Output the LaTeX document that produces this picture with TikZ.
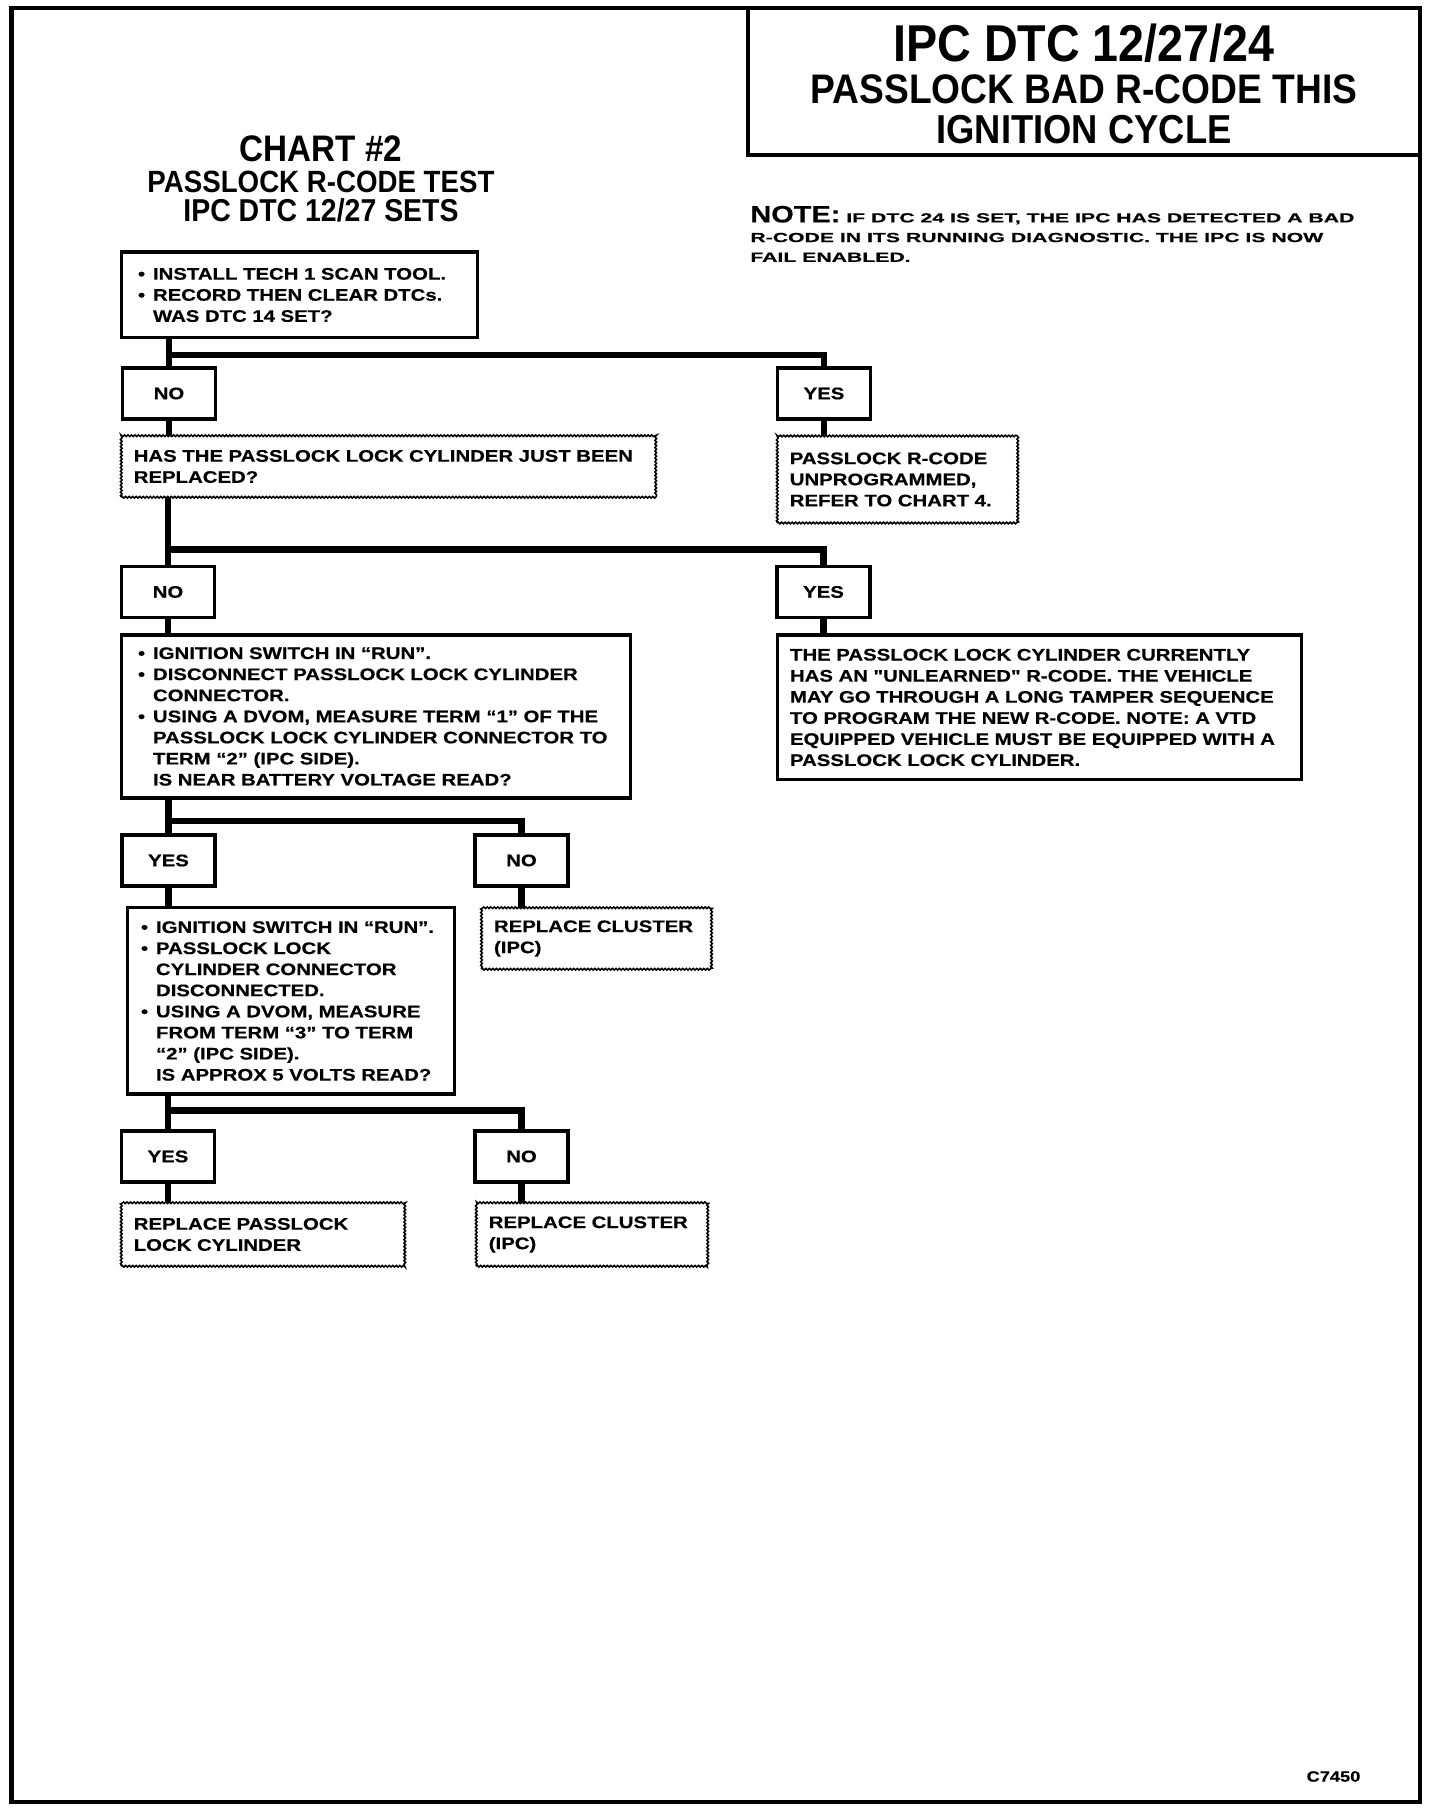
\documentclass[tikz,border=0pt]{standalone}
\usepackage{fontspec}
\setmainfont{Liberation Sans}
\newfontfamily\boxfont{Liberation Sans}[FakeStretch=1.22,FakeBold=0.5]
\newfontfamily\notefont{Liberation Sans}[FakeStretch=1.61,FakeBold=0.5]
\newfontfamily\headfont{Liberation Sans}[FakeStretch=0.9]
\usetikzlibrary{positioning,calc,decorations.pathmorphing}
\newcommand{\bul}{\makebox[0.3cm][l]{\textbullet}}
\newcommand{\ind}{\hspace*{0.3cm}}

\begin{document}
\begin{tikzpicture}[x=1cm,y=1cm,
  txt/.style={font=\boxfont\bfseries\fontsize{9.5}{12}\selectfont},
  lbl/.style={txt,draw,line width=2pt,minimum width=1.86cm,minimum height=1.02cm,inner sep=0pt},
  qbox/.style={txt,draw,line width=2pt,align=left,inner xsep=0.33cm,inner ysep=2pt},
  rbox/.style={txt,draw,line width=2pt,align=left,inner xsep=0.25cm,inner ysep=2pt},
  wbox/.style={txt,draw,line width=0.9pt,decorate,decoration={zigzag,segment length=2pt,amplitude=0.45pt},
    align=left,inner xsep=0.25cm,inner ysep=2pt},
  head/.style={font=\headfont\bfseries,anchor=base,inner sep=0pt},
  link/.style={line width=3.8pt}]
  \useasboundingbox (0,0) rectangle (28.8,36.28);
  % page frame and title box
  \draw[line width=2.4pt] (0.23,0.24) rectangle (28.4,36.12);
  \draw[line width=2pt] (14.96,33.18) rectangle (28.4,36.12);
  \node[head,font=\headfont\bfseries\fontsize{29.5}{31}\selectfont] (t1) at (21.68,35.05) {IPC DTC 12/27/24};
  \node[head,font=\headfont\bfseries\fontsize{23.5}{25}\selectfont] (t2) at (21.68,34.21) {PASSLOCK BAD R-CODE THIS};
  \node[head,font=\headfont\bfseries\fontsize{23}{25}\selectfont] (t3) at (21.68,33.41) {IGNITION CYCLE};
  \node[head,font=\headfont\bfseries\fontsize{21}{23}\selectfont] (c1) at (6.42,33.05) {CHART \#2};
  \node[head,font=\headfont\bfseries\fontsize{17.5}{19}\selectfont] (c2) at (6.42,32.43) {PASSLOCK R-CODE TEST};
  \node[head,font=\headfont\bfseries\fontsize{18}{19}\selectfont] (c3) at (6.42,31.85) {IPC DTC 12/27 SETS};
  \node[anchor=north west,align=left,inner sep=0pt,font=\notefont\bfseries\fontsize{7.5}{11.2}\selectfont] (note) at (15.0,32.17)
    {{\boxfont\fontsize{13.5}{14}\selectfont NOTE:} IF DTC 24 IS SET, THE IPC HAS DETECTED A BAD\\
     R-CODE IN ITS RUNNING DIAGNOSTIC. THE IPC IS NOW\\
     FAIL ENABLED.};
  % chart boxes
  \node[qbox,text width=6.46cm,minimum height=1.71cm] (q1) at (5.99,30.38)
    {\bul INSTALL TECH 1 SCAN TOOL.\\ \bul RECORD THEN CLEAR DTCs.\\ \ind WAS DTC 14 SET?};
  \node[lbl] (no1) at (3.38,28.41) {NO};
  \node[lbl] (yes1) at (16.48,28.41) {YES};
  \node[wbox,text width=10.19cm,minimum height=1.23cm] (q2) at (7.77,26.95)
    {HAS THE PASSLOCK LOCK CYLINDER JUST BEEN\\ REPLACED?};
  \node[wbox,text width=4.31cm,minimum height=1.74cm] (r1) at (17.95,26.69)
    {PASSLOCK R-CODE\\ UNPROGRAMMED,\\ REFER TO CHART 4.};
  \node[lbl] (no2) at (3.36,24.44) {NO};
  \node[lbl] (yes2) at (16.47,24.44) {YES};
  \node[qbox,text width=9.52cm,minimum height=3.26cm] (q3) at (7.52,21.95)
    {\bul IGNITION SWITCH IN “RUN”.\\
     \bul DISCONNECT PASSLOCK LOCK CYLINDER\\
     \ind CONNECTOR.\\
     \bul USING A DVOM, MEASURE TERM “1” OF THE\\
     \ind PASSLOCK LOCK CYLINDER CONNECTOR TO\\
     \ind TERM “2” (IPC SIDE).\\
     \ind IS NEAR BATTERY VOLTAGE READ?};
  \node[rbox,text width=9.98cm,minimum height=2.89cm] (r2) at (20.79,22.13)
    {THE PASSLOCK LOCK CYLINDER CURRENTLY\\
     HAS AN "UNLEARNED" R-CODE. THE VEHICLE\\
     MAY GO THROUGH A LONG TAMPER SEQUENCE\\
     TO PROGRAM THE NEW R-CODE. NOTE: A VTD\\
     EQUIPPED VEHICLE MUST BE EQUIPPED WITH A\\
     PASSLOCK LOCK CYLINDER.};
  \node[lbl] (yes3) at (3.37,19.07) {YES};
  \node[lbl] (no3) at (10.43,19.07) {NO};
  \node[qbox,inner xsep=0.27cm,text width=6.0cm,minimum height=3.73cm] (q4) at (5.82,16.26)
    {\bul IGNITION SWITCH IN “RUN”.\\
     \bul PASSLOCK LOCK\\
     \ind CYLINDER CONNECTOR\\
     \ind DISCONNECTED.\\
     \bul USING A DVOM, MEASURE\\
     \ind FROM TERM “3” TO TERM\\
     \ind “2” (IPC SIDE).\\
     \ind IS APPROX 5 VOLTS READ?};
  \node[wbox,text width=4.10cm,minimum height=1.23cm] (r3) at (11.93,17.51)
    {REPLACE CLUSTER\\ (IPC)};
  \node[lbl] (yes4) at (3.36,13.15) {YES};
  \node[lbl] (no4) at (10.43,13.15) {NO};
  \node[wbox,text width=5.17cm,minimum height=1.27cm] (r4) at (5.26,11.59)
    {REPLACE PASSLOCK\\ LOCK CYLINDER};
  \node[wbox,text width=4.13cm,minimum height=1.27cm] (r5) at (11.84,11.59)
    {REPLACE CLUSTER\\ (IPC)};
  \node[font=\boxfont\bfseries\fontsize{8.5}{10}\selectfont] (code) at (26.67,0.75) {C7450};
  % connectors
  \coordinate (b1) at (0,29.18);
  \coordinate (b2) at (0,25.29);
  \coordinate (b3) at (0,19.86);
  \coordinate (b4) at (0,14.07);
  \draw[link] (no1.north |- q1.south) -- (no1.north);
  \draw[link] (no1.north |- b1) -| (yes1.north);
  \draw[link] (no1.south) -- (no1.south |- q2.north);
  \draw[link] (yes1.south) -- (yes1.south |- r1.north);
  \draw[link] (no2.north |- q2.south) -- (no2.north);
  \draw[link] (no2.north |- b2) -| (yes2.north);
  \draw[link] (no2.south) -- (no2.south |- q3.north);
  \draw[link] (yes2.south) -- (yes2.south |- r2.north);
  \draw[link] (yes3.north |- q3.south) -- (yes3.north);
  \draw[link] (yes3.north |- b3) -| (no3.north);
  \draw[link] (yes3.south) -- (yes3.south |- q4.north);
  \draw[link] (no3.south) -- (no3.south |- r3.north);
  \draw[link] (yes4.north |- q4.south) -- (yes4.north);
  \draw[link] (yes4.north |- b4) -| (no4.north);
  \draw[link] (yes4.south) -- (yes4.south |- r4.north);
  \draw[link] (no4.south) -- (no4.south |- r5.north);
\end{tikzpicture}
\end{document}
